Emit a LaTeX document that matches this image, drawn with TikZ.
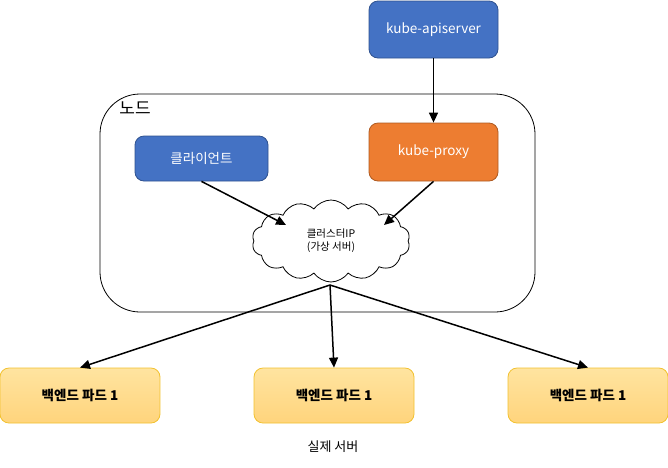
\documentclass[tikz,border=0pt]{standalone}
\usepackage{fontspec}
\setmainfont{Noto Sans CJK KR}
\usetikzlibrary{arrows.meta,positioning,shapes.symbols,calc}
\definecolor{cblue}{HTML}{4472C4}
\definecolor{cblueD}{HTML}{2F528F}
\definecolor{corange}{HTML}{ED7D31}
\definecolor{corangeD}{HTML}{AE5A21}
\definecolor{cpodT}{HTML}{FFE4A0}
\definecolor{cpodB}{HTML}{FFD47C}
\definecolor{cpodD}{HTML}{F2C12E}
\tikzset{
  fbox/.style={draw, rounded corners=9pt, align=center, line width=0.8pt},
  nblue/.style={fbox, fill=cblue, draw=cblueD, text=white, font=\fontsize{13.5}{16}\selectfont},
  norange/.style={fbox, fill=corange, draw=corangeD, text=white, font=\fontsize{13.5}{16}\selectfont},
  npod/.style={fbox, top color=cpodT, bottom color=cpodB, draw=cpodD, text=black,
               minimum width=160pt, minimum height=55pt, font=\bfseries\fontsize{13.5}{16}\selectfont},
  flow/.style={-{Triangle[length=10pt,width=9pt]}, line width=1.5pt},
}
\begin{document}
\begin{tikzpicture}[x=1pt,y=-1pt]
  \useasboundingbox (0,0) rectangle (668,467);
  % node box
  \draw[line width=0.8pt, rounded corners=40pt] (100,94) rectangle (535,312);
  \node[font=\fontsize{17}{19}\selectfont] (lbl) at (135,108) {노드};
  % control plane and client
  \node[nblue, minimum width=129pt, minimum height=57pt] (api) at (433.5,29.5) {kube-apiserver};
  \node[norange, minimum width=129pt, minimum height=58pt] (proxy) at (433.5,152) {kube-proxy};
  \node[nblue, minimum width=133pt, minimum height=45pt] (cli) at (201.5,158.5) {클라이언트};
  % virtual server
  \node[cloud, cloud puffs=14, cloud puff arc=110, aspect=1.9, draw, fill=white, line width=0.8pt,
        minimum width=158pt, minimum height=82pt, inner sep=0pt, align=center,
        font=\fontsize{10.5}{13}\selectfont] (cip) at (331,241) {클러스터IP\\(가상 서버)};
  \coordinate (cipL) at (286,225);
  \coordinate (cipR) at (384,225);
  \coordinate (cipB) at (330,285);
  % backends
  \node[npod] (pod1) at (80,395.5) {백엔드 파드 1};
  \node[npod] (pod2) at (334,395.5) {백엔드 파드 1};
  \node[npod] (pod3) at (588,395.5) {백엔드 파드 1};
  \node[font=\fontsize{13}{15}\selectfont] (srv) at (333,447) {실제 서버};
  % connectors
  \draw[flow] (api) -- (proxy);
  \draw[flow] (cli.south) -- (cipL);
  \draw[flow] (proxy.south) -- (cipR);
  \draw[flow] (cipB) -- (pod1.north);
  \draw[flow] (cipB) -- (pod2.north);
  \draw[flow] (cipB) -- (pod3.north);
\end{tikzpicture}
\end{document}
